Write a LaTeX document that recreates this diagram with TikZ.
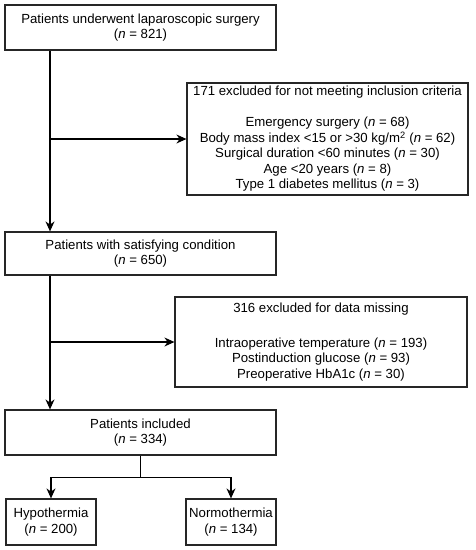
\documentclass[tikz,border=0pt]{standalone}
\usepackage{fontspec}
\setmainfont{Liberation Sans}
\usepackage{tikz}
\usetikzlibrary{shapes, arrows, arrows.meta}
\tikzstyle{stage} = [rectangle, minimum width=271pt, minimum height=45pt, text centered, align=center, draw=black!85, line width=1.2pt, inner sep=2pt]
\tikzstyle{excluded} = [rectangle, minimum height=90pt, text centered, align=center, draw=black!85, line width=1.2pt, inner sep=2pt]
\tikzstyle{group} = [rectangle, minimum width=90pt, minimum height=46pt, text centered, align=center, draw=black!85, line width=1.2pt, inner sep=2pt]
\tikzstyle{arrow} = [line width=1.1pt, ->, >={Stealth[length=10pt,width=9pt]}]

\begin{document}
\begin{tikzpicture}[x=1pt, y=-1pt, font=\fontsize{13.2}{15.5}\selectfont]
\useasboundingbox (0,0) rectangle (475,550);

% Nodes
\node (start) [stage] at (140.5,27.5) {Patients underwent laparoscopic surgery\\(\textit{n} = 821)};
\node (exclCriteria) [excluded, minimum width=281pt, minimum height=112pt] at (327.5,139) {171 excluded for not meeting inclusion criteria\\[15.5pt]
Emergency surgery (\textit{n} = 68)\\
Body mass index <15 or >30 kg/m\textsuperscript{2} (\textit{n} = 62)\\
Surgical duration <60 minutes (\textit{n} = 30)\\
Age <20 years (\textit{n} = 8)\\
Type 1 diabetes mellitus (\textit{n} = 3)};
\node (condition) [stage, minimum height=43pt, below of=start, node distance=226pt] {Patients with satisfying condition\\(\textit{n} = 650)};
\node (exclMissing) [excluded, minimum width=292pt] at (321,342) {316 excluded for data missing\\[19.5pt]
Intraoperative temperature (\textit{n} = 193)\\
Postinduction glucose (\textit{n} = 93)\\
Preoperative HbA1c (\textit{n} = 30)};
\node (included) [stage, below of=condition, node distance=179pt] {Patients included\\(\textit{n} = 334)};
\node (hypo) [group, below of=included, node distance=89.5pt, xshift=-89.5pt] {Hypothermia\\(\textit{n} = 200)};
\node (normo) [group, below of=included, node distance=89.5pt, xshift=90.5pt] {Normothermia\\(\textit{n} = 134)};

% Arrows
\draw [arrow] ([xshift=-90.5pt]start.south) -- ([xshift=-90.5pt]condition.north);
\draw [arrow] ([xshift=-90.5pt]start.south |- exclCriteria.west) -- (exclCriteria.west);
\draw [arrow] ([xshift=-90.5pt]condition.south) -- ([xshift=-90.5pt]included.north);
\draw [arrow] ([xshift=-90.5pt]condition.south |- exclMissing.west) -- (exclMissing.west);

% Split into groups
\draw [line width=1.1pt] (included.south) -- ++(0,22) coordinate (split);
\draw [arrow] (split) -| (hypo.north);
\draw [arrow] (split) -| (normo.north);

\end{tikzpicture}
\end{document}
